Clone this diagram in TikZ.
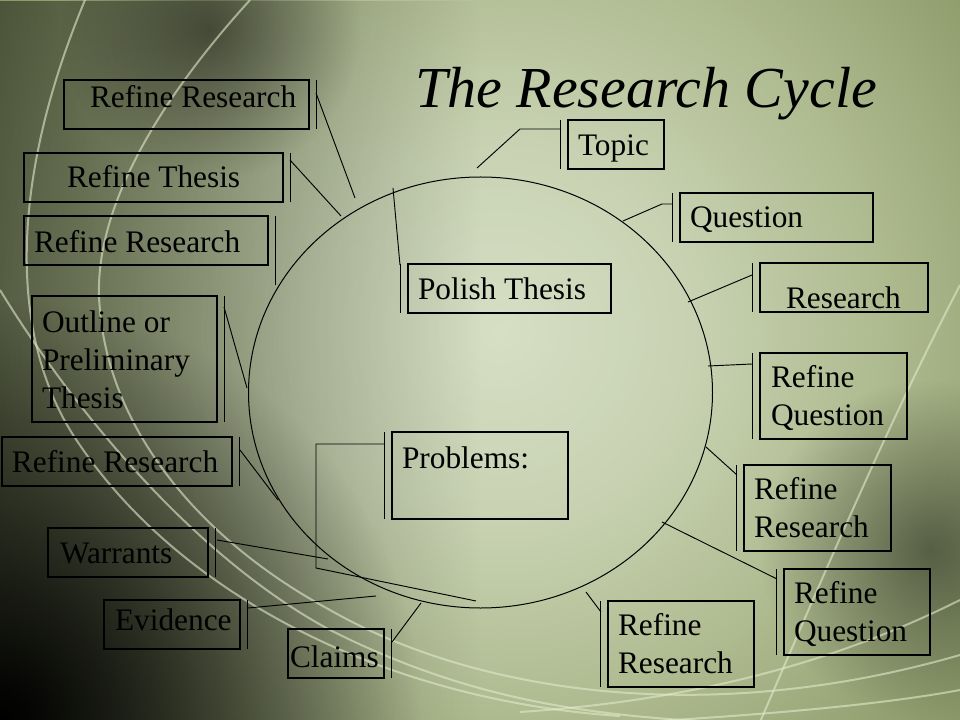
\documentclass[tikz,border=0pt]{standalone}
\usepackage{fontspec}
\setmainfont{Liberation Serif}
\usetikzlibrary{shapes.geometric,fadings}
\definecolor{bgc0}{RGB}{214,222,196}
\definecolor{bgc1}{RGB}{200,210,178}
\definecolor{bgc2}{RGB}{172,184,140}
\definecolor{bgc3}{RGB}{138,153,104}
\definecolor{bgc4}{RGB}{108,122,78}
\definecolor{swirlc}{RGB}{226,233,202}
\pgfdeclareradialshading{bgsh}{\pgfpoint{0bp}{0bp}}{color(0bp)=(bgc0); color(6bp)=(bgc1); color(12.5bp)=(bgc2); color(18.75bp)=(bgc3); color(25bp)=(bgc4); color(50bp)=(bgc4)}
\tikzfading[name=leftfade, left color=transparent!55, right color=transparent!100]
\tikzfading[name=cornerfade, inner color=transparent!0, outer color=transparent!100]
\tikzfading[name=softfade, inner color=transparent!55, outer color=transparent!100]
\newcommand\twoline[2]{\begin{tabular}[t]{@{}l@{}}#1\\#2\end{tabular}}
\begin{document}
\begin{tikzpicture}[x=0.75pt,y=-0.75pt,
  bx/.style={draw=black, line width=1pt, inner sep=0pt, outer sep=0pt, anchor=north west},
  bar/.style={draw=black, line width=1pt},
  lead/.style={draw=black, line width=0.7pt},
  lbl/.style={anchor=base west, inner sep=0pt, outer sep=0pt, font=\fontsize{23.5}{28.5}\selectfont},
  swirl/.style={draw=swirlc, line width=1.5pt, opacity=0.6},
]
\useasboundingbox (0,0) rectangle (960,720);
% ---------- background ----------
\begin{scope}
  \clip (0,0) rectangle (960,720);
  \shade[shading=bgsh] (500,330) circle [radius=600pt];
  \fill[black, path fading=leftfade] (0,0) rectangle (480,720);
  \fill[black, path fading=softfade] (60,-120) rectangle (360,180);
  \fill[black, path fading=cornerfade] (-420,300) rectangle (420,1140);
  \fill[black, path fading=softfade] (760,380) rectangle (1100,720);
  % swirl lines
  \draw[swirl] (85,0) .. controls (10,180) and (10,330) .. (70,430) .. controls (170,590) and (380,700) .. (620,716);
  \draw[swirl] (250,0) .. controls (150,110) and (90,220) .. (100,310) .. controls (110,430) and (200,540) .. (330,610) .. controls (470,690) and (700,730) .. (960,655);
  \draw[swirl] (0,290) .. controls (80,420) and (200,560) .. (330,630) .. controls (450,690) and (560,715) .. (720,722);
  \draw[swirl] (960,285) .. controls (890,420) and (830,560) .. (760,722);
  \draw[swirl] (960,600) .. controls (840,660) and (700,700) .. (520,712);
  \draw[swirl] (960,690) .. controls (880,705) and (760,715) .. (640,722);
\end{scope}
% ---------- title ----------
\node[anchor=base west, inner sep=0pt, font=\fontsize{43.5}{50}\selectfont\itshape] (title) at (415,108) {The Research Cycle};
% ---------- cycle ----------
\node[ellipse, draw=black, line width=0.75pt, minimum width=348pt, minimum height=323.25pt, inner sep=0pt] (cyc) at (480.5,392.5) {};
% ---------- boxes ----------
\node[bx, minimum width=183.75pt, minimum height=36.75pt] (bA) at (64,80) {};
\node[bx, minimum width=194.25pt, minimum height=36.75pt] (bB) at (24,153) {};
\node[bx, minimum width=183pt, minimum height=36.75pt] (bC) at (24,216) {};
\node[bx, minimum width=138.75pt, minimum height=94.5pt] (bD) at (32,296) {};
\node[bx, minimum width=172.5pt, minimum height=36.75pt] (bE) at (2,437) {};
\node[bx, minimum width=120pt, minimum height=36.75pt] (bW) at (48,528) {};
\node[bx, minimum width=102pt, minimum height=36.75pt] (bEv) at (104,600) {};
\node[bx, minimum width=72pt, minimum height=36.75pt] (bCl) at (288,629) {};
\node[bx, minimum width=72pt, minimum height=36.75pt] (bT) at (568,120) {};
\node[bx, minimum width=144.75pt, minimum height=36.75pt] (bQ) at (680,193) {};
\node[bx, minimum width=126pt, minimum height=36.75pt] (bR) at (760,263) {};
\node[bx, minimum width=110.25pt, minimum height=64.5pt] (bRQ1) at (760,353) {};
\node[bx, minimum width=110.25pt, minimum height=64.5pt] (bRR2) at (744,465) {};
\node[bx, minimum width=109.5pt, minimum height=64.5pt] (bRQ2) at (784,569) {};
\node[bx, minimum width=109.5pt, minimum height=64.5pt] (bRR3) at (608,601) {};
\node[bx, minimum width=152.25pt, minimum height=36.75pt] (bP) at (408,264) {};
\node[bx, minimum width=132pt, minimum height=65.25pt] (bPr) at (392,432) {};
% ---------- labels ----------
\node[lbl] (tA) at (90,108) {Refine Research};
\node[lbl] (tB) at (67,188) {Refine Thesis};
\node[lbl] (tC) at (34,253) {Refine Research};
\node[lbl] (tD) at (42,332) {\begin{tabular}[t]{@{}l@{}}Outline or\\Preliminary\\Thesis\end{tabular}};
\node[lbl] (tE) at (12,472) {Refine Research};
\node[lbl] (tW) at (60,563) {Warrants};
\node[lbl] (tEv) at (115,630) {Evidence};
\node[lbl] (tCl) at (290,667) {Claims};
\node[lbl] (tT) at (578,156) {Topic};
\node[lbl] (tQ) at (690,228) {Question};
\node[lbl] (tR) at (786,308) {Research};
\node[lbl] (tRQ1) at (771,387) {\twoline{Refine}{Question}};
\node[lbl] (tRR2) at (754,499) {\twoline{Refine}{Research}};
\node[lbl] (tRQ2) at (794,603) {\twoline{Refine}{Question}};
\node[lbl] (tRR3) at (618,635) {\twoline{Refine}{Research}};
\node[lbl] (tP) at (418,300) {Polish Thesis};
\node[lbl] (tPr) at (402,468) {Problems:};
% ---------- callout bars ----------
\foreach \b in {bA,bB,bD,bE,bW,bEv,bCl}
  \draw[bar] ([xshift=5.6pt]\b.north east) -- ([xshift=5.6pt]\b.south east);
\draw[bar] ([xshift=5.6pt]bC.north east) -- ([xshift=5.6pt,yshift=-15pt]bC.south east);
\foreach \b in {bT,bQ,bR,bRQ1,bRR2,bRQ2,bRR3,bP,bPr}
  \draw[bar] ([xshift=-5.6pt]\b.north west) -- ([xshift=-5.6pt]\b.south west);
% ---------- callout leads ----------
\coordinate (sA) at (316,93);   \coordinate (eA) at (355,198);
\coordinate (sB) at (290,160);  \coordinate (eB) at (341,216);
\coordinate (sD) at (224,307);  \coordinate (eD) at (247,388);
\coordinate (sE) at (240,450);  \coordinate (eE) at (278,500);
\coordinate (sW) at (217,540);  \coordinate (eW) at (328,559);
\coordinate (sEv) at (248,608); \coordinate (eEv) at (376,596);
\coordinate (sCl) at (392,642); \coordinate (eCl) at (421,603);
\coordinate (sT) at (561,129);  \coordinate (kT) at (520,129); \coordinate (eT) at (477,168);
\coordinate (sQ) at (672,204);  \coordinate (kQ) at (662,204); \coordinate (eQ) at (623,221);
\coordinate (sR) at (752,275);  \coordinate (eR) at (688,302);
\coordinate (sRQ1) at (752,364); \coordinate (eRQ1) at (708,366);
\coordinate (sRR2) at (737,475); \coordinate (eRR2) at (706,447);
\coordinate (sRQ2) at (777,579); \coordinate (eRQ2) at (662,522);
\coordinate (sRR3) at (601,612); \coordinate (eRR3) at (586,592);
\coordinate (sP) at (400,265);  \coordinate (eP) at (393,188);
\coordinate (sPr) at (384,444); \coordinate (k1Pr) at (316,444); \coordinate (k2Pr) at (316,568); \coordinate (ePr) at (476,601);
\draw[lead] (sA) -- (eA);
\draw[lead] (sB) -- (eB);
\draw[lead] (sD) -- (eD);
\draw[lead] (sE) -- (eE);
\draw[lead] (sW) -- (eW);
\draw[lead] (sEv) -- (eEv);
\draw[lead] (sCl) -- (eCl);
\draw[lead] (sT) -- (kT) -- (eT);
\draw[lead] (sQ) -- (kQ) -- (eQ);
\draw[lead] (sR) -- (eR);
\draw[lead] (sRQ1) -- (eRQ1);
\draw[lead] (sRR2) -- (eRR2);
\draw[lead] (sRQ2) -- (eRQ2);
\draw[lead] (sRR3) -- (eRR3);
\draw[lead] (sP) -- (eP);
\draw[lead] (sPr) -- (k1Pr) -- (k2Pr) -- (ePr);
\end{tikzpicture}
\end{document}
